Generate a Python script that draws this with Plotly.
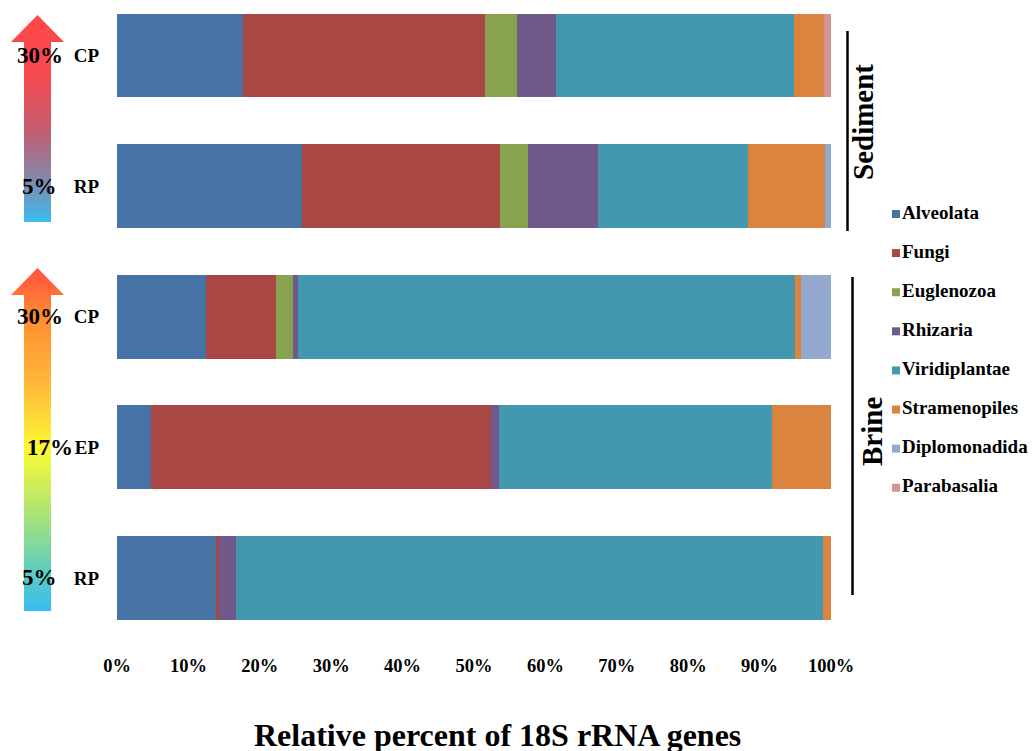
import plotly.graph_objects as go

# Samples from top to bottom
groups = ["Sediment", "Sediment", "Brine", "Brine", "Brine"]
samples = ["CP", "RP", "CP", "EP", "RP"]
salinity = ["30%", "5%", "30%", "17%", "5%"]

# Relative abundance (%) of each eukaryotic group per sample
taxa = ["Alveolata", "Fungi", "Euglenozoa", "Rhizaria", "Viridiplantae",
        "Stramenopiles", "Diplomonadida", "Parabasalia"]
alveolata = [17.7, 25.9, 12.4, 4.8, 13.8]
fungi = [33.9, 27.7, 9.8, 47.6, 0.5]
euglenozoa = [4.4, 4.0, 2.5, 0.0, 0.0]
rhizaria = [5.5, 9.7, 0.6, 1.1, 2.3]
viridiplantae = [33.3, 21.1, 69.6, 38.3, 82.3]
stramenopiles = [4.2, 10.7, 0.9, 8.2, 1.1]
diplomonadida = [0.0, 0.9, 4.2, 0.0, 0.0]
parabasalia = [1.0, 0.0, 0.0, 0.0, 0.0]
series = [alveolata, fungi, euglenozoa, rhizaria, viridiplantae,
          stramenopiles, diplomonadida, parabasalia]

colors = ["#4672A5", "#A94745", "#89A24F", "#705A8C", "#4397AE",
          "#DB8440", "#93A9CF", "#D49494"]

x_ticks = [0, 10, 20, 30, 40, 50, 60, 70, 80, 90, 100]
x_ticklabels = [f"{t}%" for t in x_ticks]

W, H = 1035, 751
FONT = "Liberation Serif"
positions = list(range(len(samples)))[::-1]  # top sample gets highest y

fig = go.Figure()

for name, vals, col in zip(taxa, series, colors):
    fig.add_trace(go.Bar(
        y=positions, x=vals, name=name, orientation="h",
        marker=dict(color=col, line=dict(width=0)),
        width=0.643, showlegend=False, xaxis="x", yaxis="y",
    ))

# Pixel-space overlay for the salinity arrows and legend
def arrow(tip, head_base, bottom):
    xs = [37.5, 64, 51, 51, 24, 24, 11, 37.5]
    ys = [tip, head_base, head_base, bottom, bottom, head_base, head_base, tip]
    return xs, ys

ax, ay = arrow(15, 42, 222)
fig.add_trace(go.Scatter(
    x=ax, y=ay, mode="lines", fill="toself", line=dict(width=0),
    fillgradient=dict(type="vertical", start=222, stop=15,
                      colorscale=[[0, "#38BDF0"], [0.18, "#7C8DB2"],
                                  [0.45, "#C65C6E"], [0.72, "#F84A50"],
                                  [1, "#FF4747"]]),
    hoverinfo="skip", showlegend=False, xaxis="x2", yaxis="y2"))

bx, by = arrow(268, 295, 611)
fig.add_trace(go.Scatter(
    x=bx, y=by, mode="lines", fill="toself", line=dict(width=0),
    fillgradient=dict(type="vertical", start=611, stop=268,
                      colorscale=[[0, "#36BCEE"], [0.14, "#68D0B4"],
                                  [0.27, "#A6E27A"], [0.47, "#FCFA34"],
                                  [0.67, "#FFB63A"], [0.86, "#FF8C30"],
                                  [1, "#FF5042"]]),
    hoverinfo="skip", showlegend=False, xaxis="x2", yaxis="y2"))

# Legend drawn as markers with labels
leg_x, leg_y0, leg_dy = 896, 214, 39.1
fig.add_trace(go.Scatter(
    x=[leg_x] * len(taxa), y=[leg_y0 + i * leg_dy for i in range(len(taxa))],
    mode="markers+text", text=taxa, textposition="middle right",
    marker=dict(symbol="square", size=8, color=colors),
    textfont=dict(family=FONT, size=19, color="black", weight="bold"),
    hoverinfo="skip", showlegend=False, xaxis="x2", yaxis="y2", cliponaxis=False))

# Plot geometry in pixels
x0_px, x1_px = 117, 831
bottom_px = 650
ctr0, step = 55.5, 130.6
y_top = positions[0] + ctr0 / step
y_bot = positions[0] - (bottom_px - ctr0) / step

annotations = []
label_x = {"30%": 40, "5%": 39, "17%": 50}
for p, s in zip(positions, salinity):
    annotations.append(dict(
        x=label_x[s], y=p, xref="x2", yref="y", text=s, showarrow=False,
        font=dict(family=FONT, size=23, color="black", weight="bold"),
        xanchor="center", yanchor="middle"))

annotations += [
    dict(x=863, y=122, xref="x2", yref="y2", text="Sediment", textangle=-90,
         showarrow=False, font=dict(family=FONT, size=29, color="black", weight="bold")),
    dict(x=872, y=432, xref="x2", yref="y2", text="Brine", textangle=-90,
         showarrow=False, font=dict(family=FONT, size=29, color="black", weight="bold")),
    dict(x=497, y=735, xref="x2", yref="y2", text="Relative percent of 18S rRNA genes",
         showarrow=False, font=dict(family=FONT, size=32, color="black", weight="bold")),
]

shapes = [
    dict(type="line", xref="x2", yref="y2", x0=847.5, x1=847.5, y0=31, y1=231,
         line=dict(color="black", width=2.5)),
    dict(type="line", xref="x2", yref="y2", x0=852.5, x1=852.5, y0=277, y1=595,
         line=dict(color="black", width=2.5)),
]

fig.update_layout(
    template="none",
    width=W, height=H, autosize=False,
    margin=dict(l=0, r=0, t=0, b=0, autoexpand=False),
    paper_bgcolor="white", plot_bgcolor="rgba(0,0,0,0)",
    barmode="stack",
    xaxis=dict(domain=[x0_px / W, x1_px / W], range=[0, 100], automargin=False,
               tickvals=x_ticks, ticktext=x_ticklabels, showgrid=False,
               zeroline=False, showline=False, ticks="", ticklabelstandoff=2,
               tickfont=dict(family=FONT, size=18.5, color="black", weight="bold"),
               anchor="y", fixedrange=True),
    yaxis=dict(domain=[1 - bottom_px / H, 1], range=[y_bot, y_top], automargin=False,
               tickvals=positions, ticktext=samples, showgrid=False,
               zeroline=False, showline=False, ticks="", ticklabelstandoff=17,
               tickfont=dict(family=FONT, size=19, color="black", weight="bold"),
               anchor="x", fixedrange=True),
    xaxis2=dict(domain=[0, 1], range=[0, W], visible=False, anchor="y2",
                automargin=False, fixedrange=True),
    yaxis2=dict(domain=[0, 1], range=[H, 0], visible=False, anchor="x2",
                automargin=False, fixedrange=True),
    annotations=annotations, shapes=shapes, showlegend=False,
)

# Page without body margin or scrollbars so the figure sits at the origin
page_css = ("document.body.style.margin='0';"
            "document.body.style.overflow='hidden';")
fig.write_html("out.html", post_script=page_css)
